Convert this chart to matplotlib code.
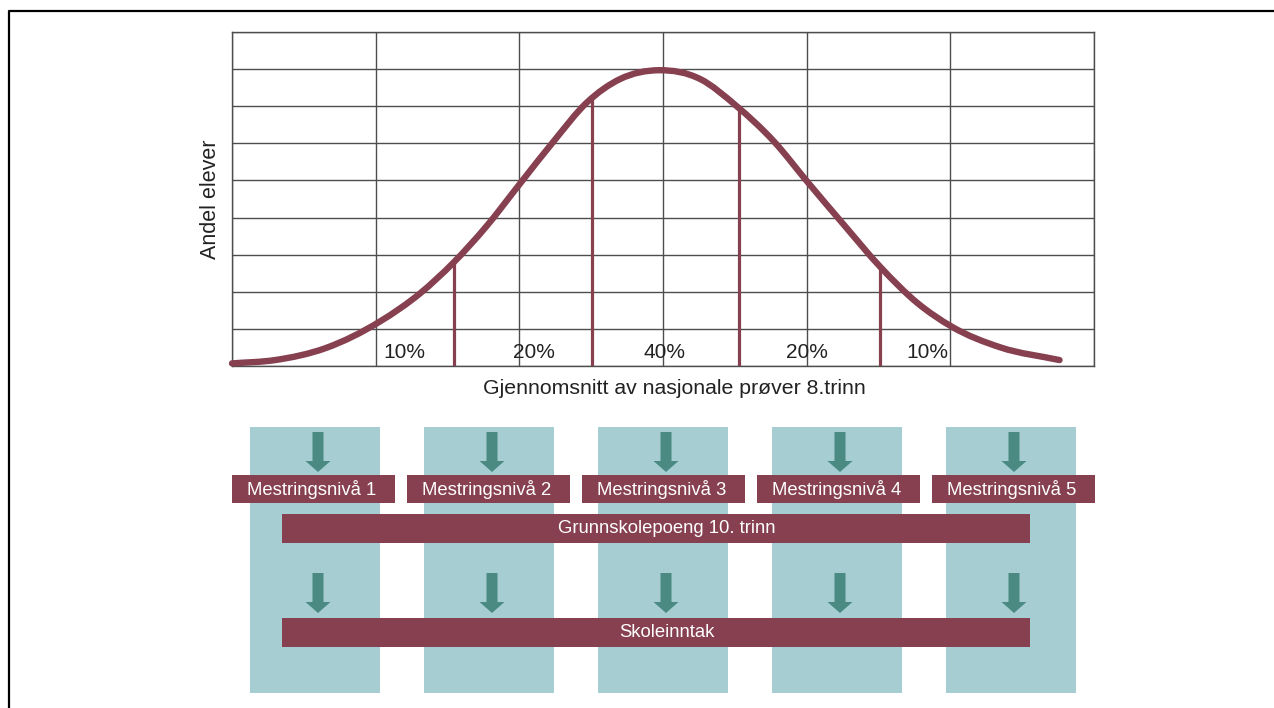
import numpy as np
import matplotlib
matplotlib.use("Agg")
import matplotlib.pyplot as plt
from matplotlib.patches import Rectangle, FancyArrow, PathPatch
from matplotlib.path import Path

plt.rcParams['font.family'] = ['Liberation Sans', 'DejaVu Sans']

# curve (x in grid columns, y in grid rows)
curve_x = [0.00, 0.30, 0.65, 1.03, 1.31, 1.54, 1.77, 2.00, 2.24, 2.47, 2.70, 2.97,
           3.26, 3.51, 3.77, 4.01, 4.26, 4.51, 4.77, 5.01, 5.35, 5.76]
curve_y = [0.07, 0.16, 0.48, 1.20, 1.96, 2.78, 3.76, 4.89, 6.06, 7.10, 7.73, 7.97,
           7.73, 7.01, 6.06, 4.94, 3.80, 2.68, 1.70, 1.06, 0.50, 0.16]

cut_x = [1.545, 2.506, 3.53, 4.51]
cut_y = [2.78, 7.19, 6.97, 2.65]

shares = ['10%', '20%', '40%', '20%', '10%']
share_x = [1.20, 2.10, 3.01, 4.00, 4.84]

levels = ['Mestringsnivå 1', 'Mestringsnivå 2', 'Mestringsnivå 3',
          'Mestringsnivå 4', 'Mestringsnivå 5']
bar_labels = ['Grunnskolepoeng 10. trinn', 'Skoleinntak']

maroon = '#86404f'
teal_bg = '#a6ced2'
teal_arrow = '#4a8a82'

W, H = 1274, 708
fig = plt.figure(figsize=(W / 100, H / 100), dpi=100)

# upper chart
ax = fig.add_axes([232 / W, 1 - 366 / H, 862 / W, 334 / H])
ax.set_xlim(0, 6)
ax.set_ylim(0, 9)
ax.set_xticks(range(7))
ax.set_yticks(range(10))
ax.tick_params(length=0, labelbottom=False, labelleft=False)
ax.grid(True, color='#4d4d4d', lw=1.0)
for s in ax.spines.values():
    s.set_color('#4d4d4d')
    s.set_linewidth(1.0)

# smooth line through the read points (cubic hermite, drawn as bezier segments)
x = np.array(curve_x)
y = np.array(curve_y)
m = np.gradient(y, x)
verts = [(x[0], y[0])]
codes = [Path.MOVETO]
for i in range(len(x) - 1):
    h = x[i + 1] - x[i]
    verts += [(x[i] + h / 3, y[i] + m[i] * h / 3),
              (x[i + 1] - h / 3, y[i + 1] - m[i + 1] * h / 3),
              (x[i + 1], y[i + 1])]
    codes += [Path.CURVE4] * 3
ax.add_patch(PathPatch(Path(verts, codes), fill=False, edgecolor=maroon, lw=4.6,
                       capstyle='round', joinstyle='round', clip_on=False, zorder=3))
ax.vlines(cut_x, 0, cut_y, color=maroon, lw=2.3, zorder=3)
for t, xx in zip(shares, share_x):
    ax.text(xx, 0.36, t, ha='center', va='center', fontsize=15, color='#222222')

ax.text(0.513, -0.066, 'Gjennomsnitt av nasjonale prøver 8.trinn', transform=ax.transAxes,
        ha='center', va='center', fontsize=15.3, color='#222222')
ax.set_ylabel('Andel elever', fontsize=15.5, color='#222222', labelpad=8)

# lower diagram, pixel space
ov = fig.add_axes([0, 0, 1, 1], zorder=-1)
ov.set_xlim(0, W)
ov.set_ylim(H, 0)
ov.axis('off')

for i in range(5):
    cx = 250 + i * 174
    ov.add_patch(Rectangle((cx, 427), 130, 266, color=teal_bg, lw=0))
    for top in (432, 573):
        ov.add_patch(FancyArrow(cx + 68, top, 0, 40, width=11, head_width=25,
                                head_length=11, length_includes_head=True,
                                color=teal_arrow, lw=0))
    bx = 232 + i * 175
    ov.add_patch(Rectangle((bx, 475), 163, 28, color=maroon, lw=0))
    ov.text(bx + 80, 489.5, levels[i], ha='center', va='center',
            color='white', fontsize=13.3)

for lab, yy in zip(bar_labels, (514, 618)):
    ov.add_patch(Rectangle((282, yy), 748, 29, color=maroon, lw=0))
    ov.text(667, yy + 14.5, lab, ha='center', va='center', color='white', fontsize=13.3)

# frame
ov.plot([9, 9, W], [H, 11, 11], color='black', lw=1.6, clip_on=False)

fig.savefig('out.png', dpi=100)
